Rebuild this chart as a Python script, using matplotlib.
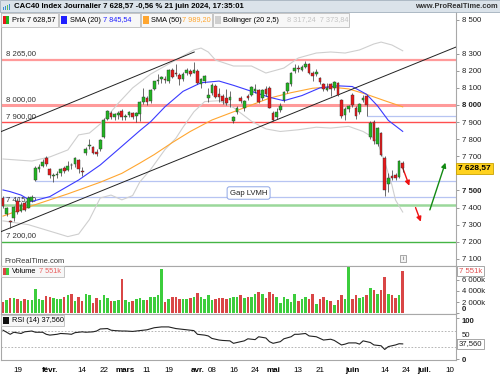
import numpy as np
import pandas as pd
import matplotlib
matplotlib.use("Agg")
import matplotlib.pyplot as plt
from matplotlib.patches import Rectangle

plt.rcParams['font.family'] = ['Liberation Sans', 'DejaVu Sans']

W, H = 500, 375

# trading days (Euronext closed on Good Friday, Easter Monday, 1 May)
holidays = pd.to_datetime(['2024-03-29', '2024-04-01', '2024-05-01'])
days = pd.bdate_range('2024-01-15', '2024-07-12')
days = days[~days.isin(holidays)]

# daily candles, 15 Jan -> 21 Jun 2024
opens = [7455, 7360, 7322, 7340, 7440, 7380, 7425, 7400, 7440, 7560,
         7625, 7645, 7690, 7625, 7585, 7590, 7600, 7630, 7620, 7648,
         7652, 7680, 7615, 7720, 7760, 7752, 7725, 7740, 7815, 7920,
         7952, 7930, 7942, 7962, 7928, 7940, 7952, 7935, 7945, 8020,
         8040, 8022, 8095, 8140, 8150, 8150, 8140, 8205, 8185, 8178,
         8150, 8188, 8200, 8190, 8200, 8125, 8140, 8040, 8070, 8112,
         8062, 8050, 8042, 8030, 7908, 7960, 8042, 7980, 8050, 8060,
         8080, 8085, 8040, 8092, 8100, 7952, 7930, 7972, 8030, 8082,
         8120, 8200, 8215, 8205, 8222, 8240, 8190, 8180, 8160, 8125,
         8090, 8120, 8100, 8130, 8030, 7940, 7975, 8060, 7985, 7960,
         8030, 8050, 7815, 7900, 7770, 7835, 7690, 7540, 7582, 7590,
         7580, 7660]
highs = [7468, 7405, 7330, 7410, 7458, 7430, 7440, 7470, 7472, 7645,
         7652, 7685, 7700, 7632, 7600, 7615, 7632, 7642, 7670, 7662,
         7698, 7685, 7640, 7752, 7800, 7762, 7745, 7800, 7922, 7972,
         7962, 7956, 7962, 7975, 7950, 7966, 7960, 7960, 8022, 8100,
         8050, 8092, 8142, 8180, 8172, 8170, 8210, 8218, 8240, 8190,
         8192, 8215, 8212, 8254, 8212, 8160, 8176, 8102, 8126, 8122,
         8102, 8062, 8092, 8082, 7936, 7992, 8050, 8030, 8062, 8110,
         8120, 8092, 8096, 8112, 8112, 7962, 7982, 8010, 8082, 8136,
         8192, 8242, 8232, 8236, 8259, 8246, 8196, 8212, 8166, 8130,
         8130, 8126, 8140, 8136, 8035, 7990, 8002, 8072, 7992, 8010,
         8060, 8056, 7905, 7912, 7870, 7842, 7702, 7600, 7622, 7600,
         7680, 7672]
lows = [7395, 7350, 7280, 7320, 7360, 7372, 7380, 7395, 7430, 7555,
        7610, 7638, 7645, 7575, 7552, 7572, 7585, 7600, 7612, 7628,
        7640, 7600, 7585, 7708, 7745, 7712, 7700, 7732, 7808, 7912,
        7918, 7914, 7920, 7915, 7912, 7928, 7918, 7902, 7905, 8005,
        8000, 8010, 8088, 8122, 8128, 8128, 8130, 8155, 8172, 8118,
        8140, 8178, 8168, 8185, 8120, 8100, 8130, 8020, 8058, 8040,
        8020, 8008, 8000, 7990, 7895, 7948, 8010, 7962, 8030, 8050,
        8072, 8010, 8030, 8050, 7980, 7905, 7918, 7960, 8020, 8070,
        8110, 8190, 8195, 8196, 8215, 8180, 8140, 8170, 8120, 8080,
        8080, 8050, 8090, 8050, 7925, 7915, 7960, 7990, 7920, 7950,
        8020, 7935, 7800, 7770, 7762, 7700, 7470, 7490, 7560, 7562,
        7575, 7610]
closes = [7411, 7398, 7318, 7401, 7371, 7413, 7388, 7455, 7464, 7634,
          7640, 7665, 7656, 7588, 7592, 7597, 7625, 7611, 7644, 7647,
          7689, 7625, 7607, 7743, 7768, 7720, 7711, 7795, 7911, 7966,
          7929, 7948, 7954, 7927, 7934, 7957, 7930, 7954, 8016, 8046,
          8017, 8088, 8138, 8146, 8164, 8149, 8202, 8161, 8179, 8151,
          8184, 8204, 8184, 8205, 8130, 8153, 8170, 8061, 8119, 8049,
          8045, 8024, 8010, 8045, 7932, 7981, 8023, 8022, 8040, 8105,
          8091, 8016, 8088, 8065, 7985, 7915, 7957, 7996, 8075, 8131,
          8187, 8219, 8209, 8225, 8239, 8188, 8168, 8195, 8135, 8092,
          8102, 8094, 8132, 8057, 7935, 7978, 7992, 7999, 7937, 8006,
          8041, 8002, 7893, 7790, 7865, 7707, 7503, 7571, 7570, 7570,
          7671, 7628.57]
volume = [2000, 2300, 2800, 2700, 2500, 2200, 2600, 2300, 2400, 4300,
          2600, 2300, 3100, 3000, 2700, 2500, 2500, 3000, 3200, 3400,
          2200, 2900, 2200, 3400, 3300, 1800, 2800, 2300, 3300, 2800,
          2200, 2200, 2300, 6200, 2300, 2100, 2200, 2500, 2800, 2400,
          2400, 3000, 3000, 3200, 8000, 2000, 2600, 3000, 2900, 2500,
          2500, 2600, 2800, 3000, 3700, 2900, 2600, 3200, 2300, 2600,
          2700, 2800, 2600, 2700, 3000, 2900, 3300, 2800, 3000, 3000,
          3500, 3800, 3500, 2700, 3800, 3500, 3000, 1800, 2900, 2600,
          2000, 3400, 2200, 2600, 2900, 2600, 3400, 1700, 2600, 3000,
          2400, 2200, 1500, 2400, 3200, 2600, 8200, 2600, 3200, 2800,
          2900, 3300, 4500, 4200, 3500, 4200, 6500, 3500, 3200, 2800,
          3300, 7551]

# indicators (sampled off the chart)
sma20_x = [0, 2, 5, 8, 13, 21, 27, 32, 38, 41, 45, 50, 55, 60, 64, 69, 74, 78,
           83, 88, 93, 97, 101, 104, 107, 111]
sma20_y = [7503, 7493, 7473, 7436, 7464, 7561, 7649, 7740, 7850, 7902, 7990,
           8080, 8130, 8140, 8115, 8080, 8045, 8025, 8055, 8100, 8112, 8108,
           8062, 7995, 7910, 7845.54]
sma50_x = [0, 8, 18, 27, 33, 38, 42, 47, 52, 58, 64, 69, 74, 80, 86, 91, 96,
           101, 106, 111]
sma50_y = [7350, 7410, 7480, 7548, 7600, 7660, 7710, 7780, 7845, 7912, 7960,
           8000, 8040, 8072, 8098, 8105, 8094, 8062, 8025, 7989.20]
bb_up_x = [0, 8, 13, 18, 21, 24, 27, 30, 32, 36, 41, 45, 50, 53, 55, 57, 59,
           64, 69, 73, 78, 82, 87, 91, 95, 99, 103, 105, 108, 111]
bb_up_y = [7684, 7672, 7696, 7737, 7825, 7836, 7889, 7960, 8010, 8100, 8181,
           8228, 8287, 8322, 8333, 8310, 8263, 8228, 8228, 8187, 8216, 8275,
           8304, 8310, 8304, 8322, 8357, 8368, 8351, 8317.24]
bb_lo_x = [0, 7, 13, 18, 21, 24, 27, 30, 33, 36, 38, 41, 45, 48, 50, 53, 56,
           60, 64, 69, 73, 77, 82, 87, 91, 96, 100, 102, 104, 106, 108, 109, 111]
bb_lo_y = [7322, 7300, 7262, 7230, 7245, 7330, 7456, 7473, 7445, 7470, 7550,
           7623, 7740, 7805, 7870, 7960, 8020, 8025, 7985, 7905, 7860, 7845,
           7855, 7870, 7865, 7875, 7845, 7820, 7784, 7667, 7532, 7444, 7373.84]
rsi_x = [0, 1, 2, 3, 5, 6, 8, 9, 11, 12, 13, 15, 16, 18, 19, 20, 22, 23, 25,
         26, 27, 29, 30, 31, 33, 34, 36, 37, 38, 40, 42, 44, 46, 48, 49, 50,
         52, 53, 54, 56, 57, 58, 60, 61, 63, 64, 66, 67, 68, 70, 71, 73, 74,
         75, 77, 78, 80, 81, 82, 84, 85, 87, 88, 89, 91, 92, 94, 95, 96, 98,
         99, 100, 102, 103, 105, 106, 107, 109, 110, 111]
rsi_y = [71, 66, 61, 66, 63, 67, 69, 66, 66, 61, 59, 61, 63, 62, 61, 65, 67,
         66, 67, 69, 74, 75, 71, 70, 69, 69, 68, 69, 70, 72, 77, 79, 79, 75,
         74, 73, 71, 70, 61, 59, 57, 51, 47, 46, 45, 39, 43, 45, 50, 48, 55,
         52, 43, 39, 43, 50, 55, 61, 61, 63, 57, 55, 51, 47, 49, 46, 35, 37,
         40, 40, 37, 45, 41, 35, 33, 24, 31, 35, 38, 37.56]

# drawn levels and trend lines
levels = [8265, 8000, 7900, 7415, 7200]
level_text = ['8 265,00', '8 000,00', '7 900,00', '7 415,00', '7 200,00']
level_color = ['#ff9a9a', '#ff9a9a', '#ff4f4f', '#9bd89b', '#45b545']
level_lw = [1.6, 2.2, 1.0, 1.8, 1.0]
gap_levels = [7555, 7460, 7935]
gap_start = [9, 0, 101]
chan_low = ([-0.8, 125.8], [7257, 8339])
chan_high = ([-0.8, 53.1], [7842, 8310])
arrows_red = [((110.7, 7649), (113.1, 7512)), ((114.3, 7415), (116.3, 7302))]
arrow_green = ((118.3, 7371), (123.1, 7678))

tick_days = ['2024-01-19', '2024-02-01', '2024-02-14', '2024-02-22', '2024-03-01',
             '2024-03-11', '2024-03-19', '2024-04-02', '2024-04-08', '2024-04-16',
             '2024-04-24', '2024-05-02', '2024-05-13', '2024-05-21', '2024-06-03',
             '2024-06-14', '2024-06-24', '2024-07-01', '2024-07-10']
tick_text = ['19', 'févr.', '14', '22', 'mars', '11', '19', 'avr.', '08', '16',
             '24', 'mai', '13', '21', 'juin', '14', '24', 'juil.', '10']
month_text = ['févr.', 'mars', 'avr.', 'mai', 'juin', 'juil.']


def box(x0, y0, x1, y1):
    # pixel box (top-left origin) -> figure rect
    return [x0 / W, 1 - y1 / H, (x1 - x0) / W, (y1 - y0) / H]


def fx(x):
    return x / W


def fy(y):
    return 1 - y / H


def fmt(v):
    return f"{v:,}".replace(',', ' ')


fig = plt.figure(figsize=(5, 3.75), dpi=100)
ax_p = fig.add_axes(box(1, 12, 456, 266))
ax_v = fig.add_axes(box(1, 266, 456, 314))
ax_r = fig.add_axes(box(1, 314, 456, 360))

n = len(closes)
idx = np.arange(n)
o = np.array(opens)
c = np.array(closes)
up = c >= o
xmin, xmax = -0.56, 125.8

for ax in (ax_p, ax_v, ax_r):
    ax.set_xlim(xmin, xmax)
    for s in ax.spines.values():
        s.set_color('#a8a8a8')
        s.set_linewidth(0.8)
    ax.yaxis.tick_right()
    ax.tick_params(axis='y', labelsize=5.6, length=2, width=0.6, color='#888888',
                   pad=2, labelcolor='#222222')
    ax.tick_params(axis='x', bottom=False, labelbottom=False)
ax_p.spines['top'].set_visible(False)

# ---- price panel ----
ax_p.set_ylim(7058, 8544)
for lv, col, lw in zip(levels, level_color, level_lw):
    ax_p.axhline(lv, color=col, lw=lw, zorder=1)
for lv, txt in zip(levels, level_text):
    ax_p.text(0.8, lv + 14, txt, fontsize=5.6, color='#333333', va='bottom', ha='left', zorder=2)
for lv, st in zip(gap_levels, gap_start):
    ax_p.hlines(lv, st, xmax, color='#b7c4f2', lw=0.9, zorder=1)

ax_p.plot(bb_up_x, bb_up_y, color='#cfcfcf', lw=0.8, zorder=2)
ax_p.plot(bb_lo_x, bb_lo_y, color='#cfcfcf', lw=0.8, zorder=2)
ax_p.plot(sma50_x, sma50_y, color='#ffa630', lw=0.8, zorder=3)
ax_p.plot(sma20_x, sma20_y, color='#3a3aff', lw=0.8, zorder=3)
ax_p.plot(*chan_low, color='#222222', lw=0.7, zorder=3)
ax_p.plot(*chan_high, color='#222222', lw=0.7, zorder=3)

ax_p.vlines(idx, lows, highs, color='#333333', lw=0.5, zorder=4)
body_lo = np.minimum(o, c)
body_h = np.maximum(np.abs(c - o), 4)
ax_p.bar(idx, body_h, bottom=body_lo, width=0.75,
         color=np.where(up, '#22b422', '#e8191b'),
         edgecolor='#333333', linewidth=0.3, zorder=5)

for (x0, y0), (x1, y1) in arrows_red:
    ax_p.annotate('', xy=(x1, y1), xytext=(x0, y0),
                  arrowprops=dict(arrowstyle='-|>', color='#ee1111', lw=1.0, mutation_scale=7))
(gx0, gy0), (gx1, gy1) = arrow_green
ax_p.annotate('', xy=(gx1, gy1), xytext=(gx0, gy0),
              arrowprops=dict(arrowstyle='-|>', color='#138a13', lw=1.0, mutation_scale=7))

ax_p.text(68.2, 7485, 'Gap LVMH', fontsize=5.6, ha='center', va='center', color='#222222', zorder=6,
          bbox=dict(boxstyle='round,pad=0.35,rounding_size=0.3', fc='white', ec='#8ea6e6', lw=0.7))
ax_p.text(0.3, 7066, 'ProRealTime.com', fontsize=5.4, color='#333333', va='bottom', zorder=6)

pticks = [7100, 7200, 7300, 7400, 7500, 7700, 7800, 7900, 8000, 8100, 8200, 8300, 8500]
ax_p.set_yticks(pticks, [fmt(v) for v in pticks])
for lab, v in zip(ax_p.get_yticklabels(), pticks):
    if v in (7500, 8000):
        lab.set_fontweight('bold')
ax_p.text(1.004, closes[-1], '7 628,57', transform=ax_p.get_yaxis_transform(), fontsize=6,
          fontweight='bold', va='center', ha='left', clip_on=False,
          bbox=dict(boxstyle='square,pad=0.25', fc='#ffd21f', ec='#c9a200', lw=0.6))

# ---- volume panel ----
ax_v.set_ylim(-110, 8450)
ax_v.bar(idx, volume, width=0.7, color=np.where(up, '#3ccd3c', '#d94646'), lw=0)
vticks = [0, 2000, 4000, 6000]
ax_v.set_yticks(vticks, ['0', '2 000k', '4 000k', '6 000k'])
zero_lab = ax_v.get_yticklabels()[0]
zero_lab.set_fontweight('bold')
zero_lab.set_va('bottom')
ax_v.text(1.006, volume[-1], '7 551k', transform=ax_v.get_yaxis_transform(), fontsize=5.6,
          color='#e05050', va='center', ha='left', clip_on=False,
          bbox=dict(boxstyle='square,pad=0.2', fc='white', ec='#999999', lw=0.6))

# ---- RSI panel ----
ax_r.set_ylim(-1.7, 110.5)
ax_r.axhline(70, color='#aaaaaa', lw=0.6, ls=(0, (2, 2)))
ax_r.axhline(30, color='#aaaaaa', lw=0.6, ls=(0, (2, 2)))
ax_r.plot(rsi_x, rsi_y, color='#222222', lw=0.8)
ax_r.set_yticks([0, 50, 100], ['0', '50', '100'])
for lab in ax_r.get_yticklabels():
    if lab.get_text() in ('0', '100'):
        lab.set_fontweight('bold')
    if lab.get_text() == '50':
        lab.set_va('bottom')
    if lab.get_text() == '100':
        lab.set_va('top')
ax_r.text(1.006, rsi_y[-1], '37,560', transform=ax_r.get_yaxis_transform(), fontsize=5.6,
          color='#222222', va='center', ha='left', clip_on=False,
          bbox=dict(boxstyle='square,pad=0.2', fc='white', ec='#999999', lw=0.6))

tick_pos = [days.get_loc(pd.Timestamp(d)) for d in tick_days]
ax_r.set_xticks(tick_pos, tick_text)
ax_r.tick_params(axis='x', labelbottom=True, labelsize=5.8, pad=5, length=0)
for lab in ax_r.get_xticklabels():
    if lab.get_text() in month_text:
        lab.set_fontweight('bold')

# ---- header and legends ----
fig.patches.append(Rectangle((0, fy(12)), 1, 12 / H, transform=fig.transFigure,
                             fc='#dbe3ea', ec='#a3b0bc', lw=0.6, zorder=1))
for k, col in enumerate(['#3a8fd0', '#3a8fd0', '#5bbf5b', '#3a8fd0']):
    fig.patches.append(Rectangle((fx(3 + 2 * k), fy(10)), 1.2 / W, (3 + k) / H,
                                 transform=fig.transFigure, fc=col, lw=0, zorder=2))
fig.text(fx(14), fy(6), 'CAC40 Index Journalier 7 628,57 -0,56 % 21 juin 2024, 17:35:01',
         fontsize=5.6, fontweight='bold', va='center', ha='left', zorder=3)
fig.text(fx(498), fy(6), 'www.ProRealTime.com', fontsize=5.4, fontweight='bold',
         va='center', ha='right', color='#333333', zorder=3)


def legend_box(x0, x1, y0, y1):
    fig.patches.append(Rectangle((fx(x0), fy(y1)), (x1 - x0) / W, (y1 - y0) / H,
                                 transform=fig.transFigure, fc='#f7f7f7', ec='#bdbdbd',
                                 lw=0.6, zorder=2))


def swatch(x, yc, cols):
    w = 6 / len(cols)
    for k, col in enumerate(cols):
        fig.patches.append(Rectangle((fx(x + k * w), fy(yc + 3.5)), w / W, 7 / H,
                                     transform=fig.transFigure, fc=col, lw=0, zorder=3))


lfs = 5.3
legend_box(1, 58, 13, 27)
swatch(3, 20, ['#e8191b', '#22b422'])
fig.text(fx(12), fy(20), 'Prix 7 628,57', fontsize=lfs, va='center', zorder=4)
legend_box(59, 140, 13, 27)
swatch(61, 20, ['#1f1fff'])
fig.text(fx(70), fy(20), 'SMA (20)', fontsize=lfs, va='center', zorder=4)
fig.text(fx(103), fy(20), '7 845,54', fontsize=lfs, va='center', color='#1f1fff', zorder=4)
legend_box(141, 212, 13, 27)
swatch(143, 20, ['#ffa630'])
fig.text(fx(151), fy(20), 'SMA (50)', fontsize=lfs, va='center', zorder=4)
fig.text(fx(182), fy(20), '7 989,20', fontsize=lfs, va='center', color='#ffa630', zorder=4)
legend_box(213, 349, 13, 27)
swatch(215, 20, ['#cfcfcf'])
fig.text(fx(223), fy(20), 'Bollinger (20 2,5)', fontsize=lfs, va='center', zorder=4)
fig.text(fx(287), fy(20), '8 317,24  7 373,84', fontsize=lfs, va='center', color='#c4c4c4', zorder=4)

legend_box(1, 64, 266, 277)
swatch(3, 271.5, ['#d94646', '#3ccd3c'])
fig.text(fx(12), fy(271.5), 'Volume', fontsize=lfs, va='center', zorder=4)
fig.text(fx(39), fy(271.5), '7 551k', fontsize=lfs, va='center', color='#e86060', zorder=4)
legend_box(1, 64, 315, 326)
swatch(3, 320.5, ['#111111'])
fig.text(fx(12), fy(320.5), 'RSI (14) 37,560', fontsize=lfs, va='center', zorder=4)

# small info icon
fig.patches.append(Rectangle((fx(400), fy(262)), 6 / W, 7 / H, transform=fig.transFigure,
                             fc='#f2f2f2', ec='#999999', lw=0.6, zorder=3))
fig.text(fx(403), fy(258.5), 'i', fontsize=4.5, ha='center', va='center', color='#666666', zorder=4)

fig.savefig('out.png', dpi=100)
